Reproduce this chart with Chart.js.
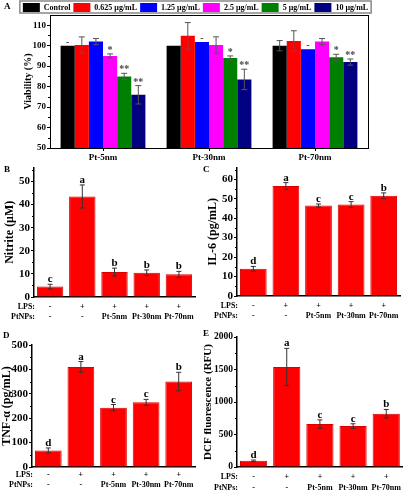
<!DOCTYPE html>
<html>
<head>
<meta charset="utf-8">
<script src="https://cdn.jsdelivr.net/npm/chart.js@4/dist/chart.umd.min.js"></script>
<style>
  html, body { margin: 0; padding: 0; background: #fff; }
  #wrap { position: relative; width: 405px; height: 500px; overflow: hidden; }
  .panel { position: absolute; }
</style>
</head>
<body>
<div id="wrap">
  <div class="panel" style="left:0;top:0;width:405px;height:160px"><canvas id="chartA"></canvas></div>
  <div class="panel" style="left:0;top:160px;width:202px;height:170px"><canvas id="chartB"></canvas></div>
  <div class="panel" style="left:202px;top:160px;width:203px;height:170px"><canvas id="chartC"></canvas></div>
  <div class="panel" style="left:0;top:330px;width:202px;height:170px"><canvas id="chartD"></canvas></div>
  <div class="panel" style="left:202px;top:330px;width:203px;height:170px"><canvas id="chartE"></canvas></div>
</div>
<script>
// panel A: viability per particle size and dose
const groupsA = ["Pt-5nm", "Pt-30nm", "Pt-70nm"];
const dosesA = ["Control", "0.625 μg/mL", "1.25 μg/mL", "2.5 μg/mL", "5 μg/mL", "10 μg/mL"];
const doseColors = ["#000000", "#ff0000", "#0000ff", "#ff00ff", "#008000", "#000080"];
const viability = [
  [100, 100, 100],
  [100.3, 104.8, 102.3],
  [102, 101.8, 98.3],
  [95, 100.3, 102],
  [85, 94, 94.3],
  [76, 83.5, 92],
];
const viabilityErr = [
  [0, 0, 2.5],
  [4, 6.5, 5],
  [1.5, 0, 0],
  [1, 4, 1.5],
  [1.5, 1, 1.5],
  [4.5, 5, 1.5],
];
const viabilityMarks = [
  ["-", "", ""],
  ["", "", ""],
  ["", "-", "-"],
  ["*", "", ""],
  ["**", "*", "*"],
  ["**", "**", "**"],
];

// panels B-E: treatments
const lpsRow = ["-", "+", "+", "+", "+"];
const ptRow = ["-", "-", "Pt-5nm", "Pt-30nm", "Pt-70nm"];

const nitrite = [4.5, 43.5, 10.8, 10.5, 9.8];
const nitriteErr = [1, 5, 1.7, 1.2, 1.3];
const nitriteLetters = ["c", "a", "b", "b", "b"];

const il6 = [14, 56.5, 46.5, 47, 51.5];
const il6Err = [1.2, 1.8, 0.8, 1.5, 1.5];
const il6Letters = ["d", "a", "c", "c", "b"];

const tnf = [68, 410, 243, 265, 350];
const tnfErr = [10, 22, 13, 12, 38];
const tnfLetters = ["d", "a", "c", "c", "b"];

const dcf = [95, 1540, 660, 630, 820];
const dcfErr = [12, 285, 65, 35, 65];
const dcfLetters = ["d", "a", "c", "c", "b"];

const FONT = "'Liberation Serif', 'Times New Roman', serif";
Chart.defaults.font.family = FONT;
Chart.defaults.font.weight = "bold";
Chart.defaults.color = "#000";

function extras(cfg) {
  return {
    id: "extras",
    afterLayout(chart) {
      // nudge the legend so it sits where the original does
      if (cfg.legendShift && chart.legend) {
        chart.legend.left += cfg.legendShift;
        chart.legend.right += cfg.legendShift;
      }
    },
    afterDatasetsDraw(chart) {
      const ctx = chart.ctx;
      const y = chart.scales.y;
      const x = chart.scales.x;
      const area = chart.chartArea;
      ctx.save();

      // error bars + marks
      chart.data.datasets.forEach((ds, i) => {
        const meta = chart.getDatasetMeta(i);
        meta.data.forEach((bar, j) => {
          const v = ds.data[j];
          const e = cfg.err[i][j];
          const top = y.getPixelForValue(v + e);
          if (e > 0) {
            const bot = y.getPixelForValue(v - e);
            ctx.strokeStyle = cfg.errColor;
            ctx.lineWidth = 1;
            ctx.beginPath();
            ctx.moveTo(bar.x, top);
            ctx.lineTo(bar.x, bot);
            ctx.moveTo(bar.x - cfg.cap, top);
            ctx.lineTo(bar.x + cfg.cap, top);
            ctx.moveTo(bar.x - cfg.cap, bot);
            ctx.lineTo(bar.x + cfg.cap, bot);
            ctx.stroke();
          }
          const mark = cfg.marks[i][j];
          if (mark) {
            ctx.fillStyle = cfg.markColor;
            ctx.font = "bold " + cfg.markSize + "px " + FONT;
            ctx.textAlign = "center";
            ctx.textBaseline = "alphabetic";
            ctx.fillText(mark, bar.x, top - cfg.markGap);
          }
        });
      });

      // minor ticks on y axis
      ctx.strokeStyle = "#000";
      ctx.lineWidth = 1;
      ctx.beginPath();
      for (let v = y.min + cfg.minor; v < y.max; v += cfg.minor * 2) {
        const p = Math.round(y.getPixelForValue(v)) + 0.5;
        ctx.moveTo(area.left, p);
        ctx.lineTo(area.left - 2, p);
      }
      ctx.stroke();

      if (cfg.frame) {
        ctx.lineWidth = 1;
        ctx.strokeStyle = "#000";
        ctx.strokeRect(area.left + 0.5, area.top + 0.5, area.right - area.left, area.bottom - area.top);
      }

      // legend frame
      if (cfg.legendFrame && chart.legend && chart.legend.legendHitBoxes.length) {
        const hb = chart.legend.legendHitBoxes;
        const l = Math.min(...hb.map((h) => h.left)) - 3;
        const r = Math.max(...hb.map((h) => h.left + h.width)) + 3;
        const t = Math.min(...hb.map((h) => h.top)) - 2;
        const b = Math.max(...hb.map((h) => h.top + h.height)) + 1;
        ctx.strokeStyle = "#888";
        ctx.lineWidth = 1.5;
        ctx.strokeRect(l, t, r - l, b - t);
      }

      // LPS / PtNPs row headers
      if (cfg.rows) {
        ctx.fillStyle = "#000";
        ctx.font = "bold 8px " + FONT;
        ctx.textAlign = "right";
        ctx.textBaseline = "middle";
        const y0 = x.top + cfg.rowPad + cfg.rowLh / 2;
        cfg.rows.forEach((t, k) => ctx.fillText(t, cfg.rowX, y0 + k * cfg.rowLh));
      }

      // panel letter
      ctx.fillStyle = "#000";
      ctx.font = "bold 9px " + FONT;
      ctx.textAlign = "left";
      ctx.textBaseline = "middle";
      ctx.fillText(cfg.panel, cfg.panelX, cfg.panelY);
      ctx.restore();
    },
  };
}

new Chart(document.getElementById("chartA"), {
  type: "bar",
  data: {
    labels: groupsA,
    datasets: dosesA.map((name, i) => ({
      label: name,
      data: viability[i],
      backgroundColor: doseColors[i],
      borderWidth: 0,
      categoryPercentage: 0.8,
      barPercentage: 1,
    })),
  },
  options: {
    responsive: true,
    maintainAspectRatio: false,
    animation: false,
    layout: { padding: { top: 0 } },
    plugins: {
      legend: {
        position: "top",
        maxHeight: 15,
        labels: { boxWidth: 17, boxHeight: 9, padding: 3, font: { size: 8, weight: "bold" } },
      },
      tooltip: { enabled: false },
    },
    scales: {
      x: {
        grid: { drawOnChartArea: false, offset: false, tickLength: 3, color: "#000" },
        border: { color: "#000" },
        ticks: { font: { size: 9 }, padding: 1 },
        afterFit: (s) => { s.height = 12; },
      },
      y: {
        min: 50,
        max: 115,
        ticks: { stepSize: 10, includeBounds: false, font: { size: 9 }, padding: 1 },
        grid: { drawOnChartArea: false, tickLength: 3, color: "#000" },
        border: { color: "#000" },
        title: { display: true, text: "Viability (%)", font: { size: 10 }, padding: { top: 22, bottom: 0 } },
        afterFit: (s) => { s.width = 50; },
      },
      // empty right-hand spacer so the legend can use the full width
      yr: {
        type: "linear",
        position: "right",
        grid: { display: false },
        ticks: { display: false },
        border: { display: false },
        afterFit: (s) => { s.width = 37; },
      },
    },
  },
  plugins: [extras({
    err: viabilityErr, marks: viabilityMarks, errColor: "#555", cap: 3,
    markColor: "#444", markSize: 10, markGap: 1, minor: 5, frame: true, legendFrame: true,
    legendShift: -7, panel: "A", panelX: 4, panelY: 7,
  })],
});

function treatmentChart(id, values, errs, letters, o) {
  return new Chart(document.getElementById(id), {
    type: "bar",
    data: {
      labels: lpsRow.map((l, i) => [l, ptRow[i]]),
      datasets: [{
        data: values,
        backgroundColor: "#ff0000",
        borderColor: "#d80000",
        borderWidth: 1,
        barPercentage: 0.82,
        categoryPercentage: 1,
      }],
    },
    options: {
      responsive: true,
      maintainAspectRatio: false,
      animation: false,
      layout: { padding: { top: o.top, right: o.right } },
      plugins: { legend: { display: false }, tooltip: { enabled: false } },
      scales: {
        x: {
          grid: { display: false, drawTicks: false },
          border: { color: "#000", width: 1.5 },
          ticks: { font: { size: 8, lineHeight: o.lh / 8 }, padding: o.xpad, maxRotation: 0, autoSkip: false },
          afterFit: (s) => { s.height = o.xh; },
        },
        y: {
          min: 0,
          max: o.max,
          ticks: { stepSize: o.step, includeBounds: false, font: { size: o.tickSize }, padding: 1, callback: (v) => String(v) },
          grid: { drawOnChartArea: false, tickLength: 3, color: "#000" },
          border: { color: "#000", width: 1.5 },
          title: { display: true, text: o.title, font: { size: o.titleSize }, padding: { top: o.titlePad, bottom: 0 } },
          afterFit: (s) => { s.width = o.yw; },
        },
      },
    },
    plugins: [extras({
      err: [errs], marks: [letters], errColor: "#333", cap: 2.5,
      markColor: "#000", markSize: 11, markGap: 2, minor: o.step / 2,
      rows: ["LPS:", "PtNPs:"], rowX: o.yw + 1, rowPad: o.xpad, rowLh: o.lh,
      panel: o.panel, panelX: o.px, panelY: o.py,
    })],
  });
}

treatmentChart("chartB", nitrite, nitriteErr, nitriteLetters, {
  max: 56, step: 10, title: "Nitrite (μM)", titleSize: 12, titlePad: 3, tickSize: 11,
  top: 4, right: 7, yw: 34, xh: 33, xpad: 5, lh: 10, panel: "B", px: 4, py: 10,
});
treatmentChart("chartC", il6, il6Err, il6Letters, {
  max: 66, step: 10, title: "IL-6 (pg/mL)", titleSize: 12, titlePad: 4, tickSize: 11,
  top: 4, right: 5, yw: 35, xh: 34, xpad: 5, lh: 10, panel: "C", px: 1, py: 10,
});
treatmentChart("chartD", tnf, tnfErr, tnfLetters, {
  max: 500, step: 100, title: "TNF-α (pg/mL)", titleSize: 12, titlePad: 0, tickSize: 11,
  top: 15, right: 7, yw: 32, xh: 33, xpad: 3, lh: 10, panel: "D", px: 3, py: 6,
});
treatmentChart("chartE", dcf, dcfErr, dcfLetters, {
  max: 2000, step: 500, title: "DCF fluorescence (RFU)", titleSize: 11, titlePad: 0, tickSize: 9.5,
  top: 7, right: 1, yw: 35, xh: 33, xpad: 4, lh: 11, panel: "E", px: 1, py: 4,
});
</script>
</body>
</html>
